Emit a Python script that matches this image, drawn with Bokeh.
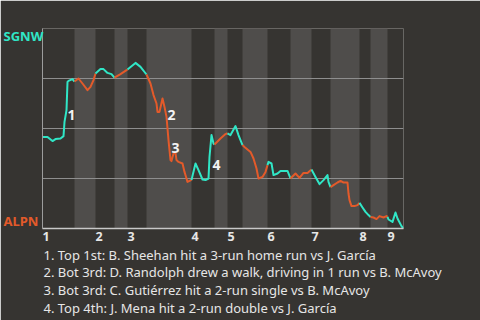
from bokeh.plotting import figure
from bokeh.models import ColumnDataSource, FixedTicker, Range1d
from bokeh.embed import file_html
from bokeh.resources import INLINE
from bokeh.core.properties import value

# ---------------- data ----------------
away_team = "SGNW"
home_team = "ALPN"
away_color = "#30e6c6"
home_color = "#e35a2a"

# half-inning boundaries on the pitch axis (top 1, bot 1, top 2, ...)
half_bounds = [0, 32, 53, 72, 85, 104, 149, 172, 185, 200, 225, 248, 269, 288, 317, 328, 345, 361]
inning_labels = ["1", "2", "3", "4", "5", "6", "7", "8", "9"]

pitch = [0, 5, 10, 13, 18, 21, 22, 24, 25, 26, 30, 32,
         36, 40, 45, 48, 51, 53,
         58, 61, 65, 69, 72,
         78, 84, 85,
         93, 98, 104,
         108, 111, 114, 115, 117, 120, 122, 124, 125, 126, 127, 128, 129, 131, 133, 134, 136, 140, 142, 144, 145, 149,
         153, 156, 160, 163, 166, 167, 169, 171, 172,
         178, 183, 185,
         188, 193, 196, 200,
         202, 208, 211, 214, 216, 220, 223, 225,
         226, 229, 231, 235, 238, 245, 248,
         253, 257, 261, 265, 269,
         273, 277, 281, 285, 286, 288,
         291, 295, 298, 301, 305, 306, 307, 309, 312, 315, 317,
         320, 323, 326, 328,
         331, 334, 337, 341, 344, 345,
         346, 350, 353, 355, 359, 361]

win_prob = [0.458, 0.458, 0.437, 0.447, 0.450, 0.462, 0.533, 0.592, 0.733, 0.738, 0.747, 0.735,
            0.750, 0.725, 0.692, 0.708, 0.742, 0.775,
            0.798, 0.797, 0.778, 0.772, 0.754,
            0.772, 0.792, 0.795,
            0.828, 0.808, 0.770,
            0.725, 0.667, 0.625, 0.583, 0.583, 0.650, 0.608, 0.558, 0.500, 0.442, 0.392, 0.342, 0.337, 0.375, 0.378, 0.342, 0.333, 0.325, 0.283, 0.250, 0.233, 0.243,
            0.325, 0.292, 0.245, 0.242, 0.250, 0.358, 0.467, 0.425, 0.420,
            0.450, 0.472, 0.476,
            0.467, 0.512, 0.467, 0.417,
            0.408, 0.383, 0.350, 0.300, 0.250, 0.258, 0.283, 0.317,
            0.333, 0.325, 0.267, 0.275, 0.288, 0.288, 0.250,
            0.275, 0.253, 0.278, 0.278, 0.295,
            0.258, 0.222, 0.242, 0.267, 0.233, 0.207,
            0.217, 0.230, 0.238, 0.230, 0.230, 0.175, 0.142, 0.112, 0.112, 0.117, 0.128,
            0.105, 0.083, 0.067, 0.058,
            0.055, 0.047, 0.062, 0.055, 0.062, 0.058,
            0.045, 0.033, 0.080, 0.050, 0.012, 0.000]

event_ids = ["1", "2", "3", "4"]
event_pitch = [25, 125, 129, 170]
event_prob = [0.567, 0.567, 0.405, 0.320]
event_texts = [
    "1. Top 1st: B. Sheehan hit a 3-run home run vs J. García",
    "2. Bot 3rd: D. Randolph drew a walk, driving in 1 run vs B. McAvoy",
    "3. Bot 3rd: C. Gutiérrez hit a 2-run single vs B. McAvoy",
    "4. Top 4th: J. Mena hit a 2-run double vs J. García",
]

# ---------------- styling ----------------
BG = "#363431"
BAND = "#4f4d4b"
GRID = "#8e8e8e"
TEXT = "#e6e6e6"
FONT = "Noto Sans"

p = figure(width=480, height=320, output_backend="svg", toolbar_location=None,
           x_range=Range1d(half_bounds[0], half_bounds[-1]), y_range=Range1d(0, 1),
           min_border_left=42, min_border_right=77, min_border_top=28, min_border_bottom=92,
           background_fill_color=BG, border_fill_color=BG, outline_line_color=None)

# bottom-half bands
band_left = [half_bounds[i] for i in range(1, len(half_bounds) - 1, 2)]
band_right = [half_bounds[i + 1] for i in range(1, len(half_bounds) - 1, 2)]
p.quad(left=band_left, right=band_right, bottom=0, top=1, fill_color=BAND, line_color=None, level="image")

# grid / axes
p.xgrid.grid_line_color = None
p.ygrid.ticker = FixedTicker(ticks=[0, 0.25, 0.5, 0.75, 1])
p.ygrid.grid_line_color = GRID
p.ygrid.grid_line_width = 1

p.yaxis.ticker = FixedTicker(ticks=[0, 0.25, 0.5, 0.75, 1])
p.yaxis.major_label_text_color = None
p.yaxis.major_label_text_font_size = "0px"
p.yaxis.major_tick_line_color = None
p.yaxis.minor_tick_line_color = None
p.yaxis.axis_line_color = "#9c9c9c"

inning_starts = half_bounds[0:-1:2]
p.xaxis.ticker = FixedTicker(ticks=inning_starts)
p.xaxis.major_label_text_color = None
p.xaxis.major_label_text_font_size = "0px"
p.xaxis.major_tick_line_color = None
p.xaxis.minor_tick_line_color = None
p.xaxis.axis_line_color = "#c8c8c8"
p.xaxis.axis_line_width = 1.5

# inning numbers, left-aligned at the start of each inning
inn_src = ColumnDataSource(dict(x=inning_starts, y=[0] * len(inning_starts), t=inning_labels))
p.text(x="x", y="y", text="t", source=inn_src, text_align="left", text_baseline="top",
       y_offset=3, text_font=value(FONT), text_font_style="bold", text_font_size="12.5px",
       text_color=TEXT, level="overlay")

# win-probability line, coloured by batting team
def half_index(m):
    for h in range(len(half_bounds) - 1):
        if half_bounds[h] <= m < half_bounds[h + 1]:
            return h
    return len(half_bounds) - 2

runs_x, runs_y, runs_c = [], [], []
cur_c = None
for i in range(len(pitch) - 1):
    m = (pitch[i] + pitch[i + 1]) / 2
    c = away_color if half_index(m) % 2 == 0 else home_color
    if c != cur_c:
        runs_x.append([pitch[i]])
        runs_y.append([win_prob[i]])
        runs_c.append(c)
        cur_c = c
    runs_x[-1].append(pitch[i + 1])
    runs_y[-1].append(win_prob[i + 1])

p.multi_line(xs=runs_x, ys=runs_y, line_color=runs_c, line_width=2, line_join="round")

# event markers
src = ColumnDataSource(dict(x=event_pitch, y=event_prob, t=event_ids))
p.text(x="x", y="y", text="t", source=src, text_align="left", text_baseline="middle",
       text_font=value(FONT), text_font_style="bold", text_font_size="14px", text_color="#f2f2f2")

# team labels (outside the frame, so drawn at overlay level)
team_src = ColumnDataSource(dict(x=[half_bounds[0], half_bounds[0]], y=[1, 0],
                                 t=[away_team, home_team], c=[away_color, home_color],
                                 b=["top", "bottom"], yo=[-2, 1]))
p.text(x="x", y="y", text="t", source=team_src, text_color="c", text_baseline="b",
       text_align="left", x_offset=-39, y_offset="yo", text_font=value(FONT), text_font_style="bold",
       text_font_size="13px", level="overlay")

# event descriptions below the axis
desc_src = ColumnDataSource(dict(x=[half_bounds[0]] * len(event_texts), y=[0] * len(event_texts),
                                 t=event_texts, yo=[26 + 17.7 * k for k in range(len(event_texts))]))
p.text(x="x", y="y", text="t", source=desc_src, x_offset=1, y_offset="yo",
       text_baseline="middle", text_align="left", text_font=value(FONT),
       text_font_size="13px", text_color=TEXT, level="overlay")

open("out.html", "w").write(file_html(p, INLINE))
